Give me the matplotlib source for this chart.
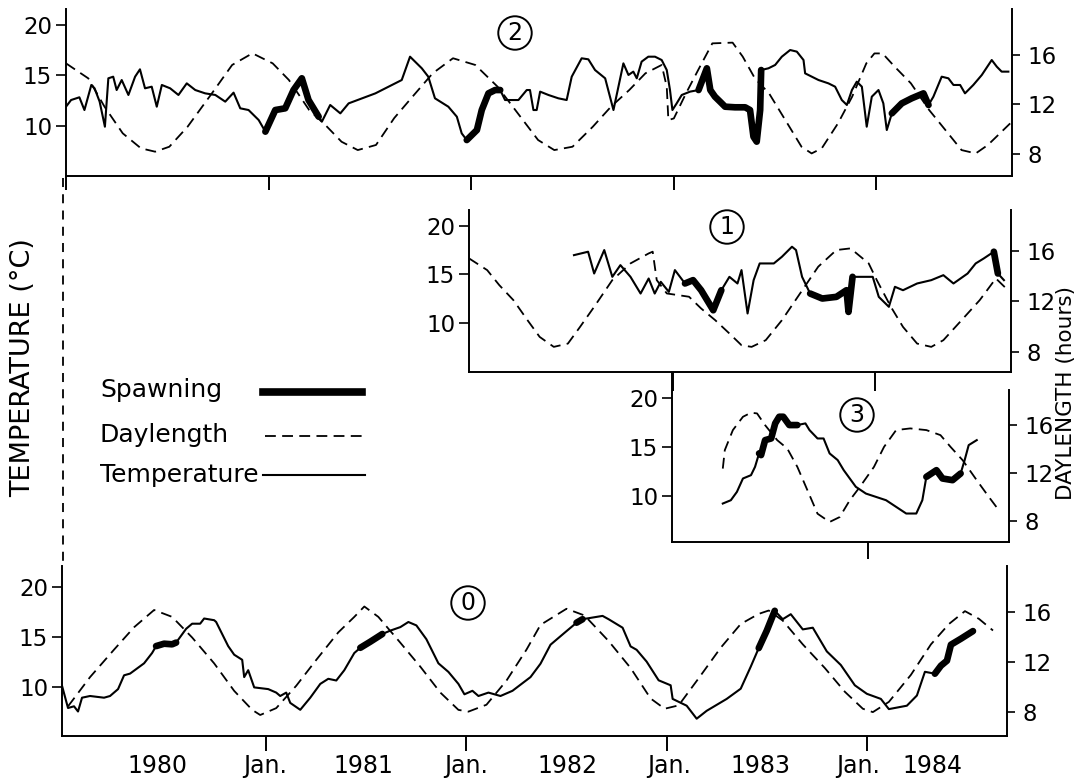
import matplotlib
matplotlib.use("Agg")
import matplotlib.pyplot as plt
from matplotlib.lines import Line2D
import numpy as np

W, H = 1082, 778

# ---------------- panel 2 (top) ----------------
p2_day_yr = [1980.00, 1980.11, 1980.19, 1980.28, 1980.37, 1980.44, 1980.51, 1980.60, 1980.72, 1980.82,
             1980.92, 1981.02, 1981.10, 1981.20, 1981.28, 1981.36, 1981.44, 1981.53, 1981.62, 1981.71,
             1981.81, 1981.91, 1982.02, 1982.13, 1982.23, 1982.33, 1982.41, 1982.50, 1982.60, 1982.69,
             1982.78, 1982.86, 1982.94, 1982.965, 1982.973, 1983.00, 1983.06, 1983.12, 1983.19, 1983.29,
             1983.34, 1983.40, 1983.47, 1983.53, 1983.58, 1983.63, 1983.68, 1983.73, 1983.81, 1983.88,
             1983.95, 1983.99, 1984.03, 1984.09, 1984.17, 1984.26, 1984.34, 1984.42, 1984.49, 1984.55,
             1984.66]
p2_day_h = [15.31, 14.10, 11.82, 9.67, 8.46, 8.19, 8.59, 10.20, 12.89, 15.18,
            16.12, 15.31, 13.97, 11.55, 10.34, 8.99, 8.32, 8.73, 10.90, 12.62,
            14.51, 15.72, 15.18, 13.43, 11.28, 9.13, 8.32, 8.59, 10.20, 11.82,
            13.16, 14.51, 15.18, 13.43, 10.74, 10.87, 12.89, 14.77, 16.92, 16.98,
            15.85, 14.10, 12.89, 11.28, 9.94, 8.59, 8.05, 8.46, 10.47, 12.62,
            15.31, 16.11, 16.11, 15.04, 13.70, 11.55, 9.94, 8.32, 8.05, 8.73,
            10.47]
p2_temp_yr = [1980.00, 1980.025, 1980.066, 1980.091, 1980.125, 1980.141, 1980.166, 1980.192, 1980.209, 1980.233,
              1980.250, 1980.275, 1980.308, 1980.341, 1980.365, 1980.390, 1980.423, 1980.448, 1980.473, 1980.514,
              1980.555, 1980.596, 1980.638, 1980.687, 1980.737, 1980.786, 1980.827, 1980.860, 1980.901, 1980.951,
              1980.984, 1981.033, 1981.082, 1981.123, 1981.164, 1981.197, 1981.247, 1981.263, 1981.304, 1981.354,
              1981.395, 1981.461, 1981.527, 1981.592, 1981.657, 1981.698, 1981.756, 1981.788, 1981.821, 1981.887,
              1981.929, 1981.953, 1981.978, 1982.028, 1982.052, 1982.085, 1982.118, 1982.143, 1982.167, 1982.233,
              1982.274, 1982.290, 1982.307, 1982.323, 1982.340, 1982.381, 1982.430, 1982.471, 1982.496, 1982.545,
              1982.578, 1982.611, 1982.661, 1982.702, 1982.751, 1982.776, 1982.800, 1982.817, 1982.841, 1982.874,
              1982.907, 1982.940, 1982.965, 1982.981, 1982.993, 1983.014, 1983.039, 1983.080, 1983.122, 1983.163,
              1983.180, 1983.203, 1983.228, 1983.253, 1983.302, 1983.352, 1983.376, 1983.393, 1983.409, 1983.426,
              1983.431, 1983.467, 1983.500, 1983.533, 1983.574, 1983.607, 1983.640, 1983.648, 1983.681, 1983.714,
              1983.763, 1983.796, 1983.829, 1983.854, 1983.879, 1983.903, 1983.928, 1983.952, 1983.977, 1984.010,
              1984.034, 1984.051, 1984.076, 1984.125, 1984.174, 1984.232, 1984.257, 1984.281, 1984.322, 1984.355,
              1984.380, 1984.413, 1984.437, 1984.478, 1984.520, 1984.569, 1984.594, 1984.618, 1984.651]
p2_temp_c = [11.91, 12.57, 12.84, 11.58, 14.06, 13.73, 12.41, 9.93, 14.72, 14.88,
             13.56, 14.55, 13.07, 14.88, 15.61, 13.73, 13.89, 11.91, 14.06, 13.73,
             13.07, 14.22, 13.56, 13.23, 13.07, 12.41, 13.30, 11.75, 11.58, 10.59,
             9.44, 11.58, 11.75, 13.56, 14.72, 12.57, 10.92, 10.43, 12.08, 11.25,
             12.24, 12.74, 13.23, 13.89, 14.55, 16.86, 15.71, 14.88, 12.74, 11.91,
             10.92, 9.27, 8.61, 9.60, 11.58, 13.23, 13.56, 13.56, 12.57, 12.57,
             13.56, 13.56, 11.58, 11.58, 13.40, 13.07, 12.74, 12.57, 14.88, 16.70,
             16.60, 15.54, 14.72, 11.58, 16.20, 15.05, 15.38, 14.72, 16.37, 16.86,
             16.86, 16.53, 15.54, 13.56, 11.58, 12.24, 13.07, 13.40, 13.56, 15.71,
             13.56, 12.90, 12.41, 11.91, 11.85, 11.85, 11.58, 8.94, 8.45, 11.58,
             15.54, 15.71, 16.04, 16.86, 17.52, 17.36, 16.53, 15.21, 14.88, 14.55,
             14.22, 13.89, 12.57, 12.08, 13.56, 14.39, 13.89, 9.93, 12.90, 13.56,
             12.24, 9.60, 11.25, 12.24, 12.74, 13.23, 12.08, 12.90, 14.88, 14.72,
             14.06, 14.06, 13.23, 14.06, 15.05, 16.53, 15.87, 15.38, 15.38]
p2_spawn = [(1980.98, 1981.25), (1981.975, 1982.145), (1983.12, 1983.435), (1984.07, 1984.26)]

# ---------------- panel 1 ----------------
p1_day_yr = [1981.99, 1982.08, 1982.14, 1982.21, 1982.28, 1982.34, 1982.41, 1982.48, 1982.54, 1982.61,
             1982.70, 1982.79, 1982.88, 1982.90, 1982.92, 1982.97, 1983.08, 1983.14, 1983.21, 1983.28,
             1983.34, 1983.39, 1983.46, 1983.54, 1983.63, 1983.72, 1983.81, 1983.88, 1983.97, 1984.01,
             1984.08, 1984.14, 1984.21, 1984.28, 1984.34, 1984.43, 1984.52, 1984.60, 1984.66]
p1_day_h = [15.41, 14.48, 13.29, 12.10, 10.51, 9.19, 8.40, 8.66, 9.98, 11.57,
            13.69, 15.01, 15.80, 15.94, 13.69, 12.63, 12.37, 11.44, 10.51, 9.46,
            8.53, 8.40, 8.93, 10.51, 12.63, 14.75, 16.07, 16.20, 15.01, 13.69,
            11.57, 9.98, 8.66, 8.40, 8.93, 10.51, 12.10, 13.82, 12.89]
p1_temp_yr = [1982.51, 1982.58, 1982.61, 1982.66, 1982.70, 1982.74, 1982.79, 1982.84, 1982.88, 1982.91,
              1982.94, 1982.98, 1983.01, 1983.06, 1983.10, 1983.14, 1983.20, 1983.24, 1983.28, 1983.32,
              1983.34, 1983.37, 1983.40, 1983.43, 1983.50, 1983.54, 1983.59, 1983.61, 1983.64, 1983.68,
              1983.74, 1983.81, 1983.86, 1983.87, 1983.89, 1983.94, 1983.99, 1984.02, 1984.07, 1984.10,
              1984.14, 1984.21, 1984.28, 1984.34, 1984.39, 1984.46, 1984.50, 1984.54, 1984.59, 1984.61,
              1984.64]
p1_temp_c = [16.97, 17.32, 15.09, 17.49, 14.75, 15.95, 14.75, 13.04, 14.58, 13.04,
             14.24, 13.21, 15.44, 14.07, 14.41, 13.38, 11.33, 13.38, 14.75, 14.07,
             15.44, 11.00, 14.41, 16.12, 16.12, 16.80, 17.83, 17.49, 14.75, 13.04,
             12.53, 12.70, 13.38, 11.16, 14.75, 14.75, 14.75, 12.70, 11.68, 13.73,
             13.38, 14.07, 14.41, 14.92, 14.07, 15.09, 16.12, 16.63, 17.32, 15.09,
             14.41]
p1_spawn = [(1983.03, 1983.25), (1983.66, 1983.90), (1984.59, 1984.62)]

# ---------------- panel 3 ----------------
p3_day_yr = [1983.28, 1983.29, 1983.33, 1983.38, 1983.42, 1983.45, 1983.49, 1983.55, 1983.60, 1983.65,
             1983.70, 1983.75, 1983.81, 1983.86, 1983.91, 1983.96, 1984.03, 1984.08, 1984.14, 1984.21,
             1984.29, 1984.36, 1984.41, 1984.47, 1984.54, 1984.60, 1984.65]
p3_day_h = [12.37, 13.91, 15.58, 16.69, 17.03, 16.97, 15.99, 14.74, 14.04, 12.51,
            10.56, 8.61, 7.92, 8.33, 9.73, 10.84, 12.51, 14.18, 15.58, 15.72,
            15.58, 15.16, 14.18, 13.07, 11.40, 10.01, 8.89]
p3_temp_yr = [1983.28, 1983.32, 1983.35, 1983.38, 1983.42, 1983.44, 1983.46, 1983.47, 1983.49, 1983.52,
              1983.54, 1983.56, 1983.58, 1983.61, 1983.65, 1983.69, 1983.71, 1983.75, 1983.78, 1983.81,
              1983.85, 1983.88, 1983.91, 1983.94, 1983.99, 1984.04, 1984.09, 1984.14, 1984.19, 1984.24,
              1984.27, 1984.29, 1984.34, 1984.37, 1984.42, 1984.46, 1984.48, 1984.50, 1984.54]
p3_temp_c = [9.25, 9.59, 10.44, 11.81, 12.15, 13.00, 14.37, 14.20, 15.73, 15.90,
             17.44, 18.12, 18.12, 17.27, 17.27, 17.44, 16.76, 15.90, 15.90, 14.37,
             13.69, 12.66, 11.81, 10.96, 10.27, 9.93, 9.59, 8.91, 8.23, 8.23,
             9.59, 11.98, 12.66, 11.81, 11.64, 12.32, 13.69, 15.22, 15.73]
p3_spawn = [(1983.46, 1983.65), (1984.29, 1984.46)]

# ---------------- panel 0 (bottom) ----------------
p0_day_yr = [1980.01, 1980.12, 1980.24, 1980.34, 1980.44, 1980.53, 1980.63, 1980.74, 1980.84, 1980.93,
             1980.97, 1981.05, 1981.15, 1981.25, 1981.36, 1981.44, 1981.49, 1981.56, 1981.67, 1981.77,
             1981.87, 1981.96, 1982.01, 1982.10, 1982.20, 1982.30, 1982.37, 1982.50, 1982.59, 1982.71,
             1982.82, 1982.92, 1982.99, 1983.06, 1983.16, 1983.27, 1983.37, 1983.46, 1983.51, 1983.58,
             1983.68, 1983.79, 1983.89, 1983.98, 1984.03, 1984.11, 1984.22, 1984.32, 1984.41, 1984.49,
             1984.56, 1984.63]
p0_day_h = [8.43, 10.77, 12.97, 14.76, 16.14, 15.59, 13.94, 11.87, 9.67, 8.15,
            7.74, 8.29, 10.08, 12.15, 14.35, 15.59, 16.42, 15.59, 13.52, 11.60,
            9.53, 8.15, 8.01, 8.56, 10.49, 12.97, 14.95, 16.24, 15.70, 13.66,
            11.50, 9.06, 8.24, 8.51, 10.68, 13.12, 15.02, 15.83, 16.10, 15.29,
            13.39, 11.50, 9.60, 8.24, 7.97, 8.79, 10.95, 13.39, 15.02, 16.05,
            15.43, 14.50]
p0_temp_yr = [1979.98, 1980.01, 1980.04, 1980.06, 1980.08, 1980.12, 1980.19, 1980.22, 1980.26, 1980.29,
              1980.32, 1980.39, 1980.43, 1980.45, 1980.49, 1980.53, 1980.55, 1980.60, 1980.63, 1980.67,
              1980.69, 1980.74, 1980.75, 1980.81, 1980.84, 1980.88, 1980.89, 1980.91, 1980.94, 1981.01,
              1981.05, 1981.07, 1981.10, 1981.12, 1981.17, 1981.22, 1981.27, 1981.31, 1981.35, 1981.39,
              1981.44, 1981.47, 1981.52, 1981.58, 1981.62, 1981.67, 1981.71, 1981.75, 1981.80, 1981.86,
              1981.91, 1981.96, 1981.99, 1982.03, 1982.06, 1982.11, 1982.17, 1982.23, 1982.32, 1982.37,
              1982.42, 1982.49, 1982.55, 1982.58, 1982.68, 1982.71, 1982.78, 1982.82, 1982.85, 1982.90,
              1982.96, 1983.02, 1983.03, 1983.10, 1983.15, 1983.20, 1983.30, 1983.37, 1983.42, 1983.46,
              1983.50, 1983.54, 1983.58, 1983.62, 1983.68, 1983.73, 1983.80, 1983.87, 1983.94, 1984.00,
              1984.07, 1984.11, 1984.20, 1984.25, 1984.29, 1984.34, 1984.37, 1984.40, 1984.42, 1984.47,
              1984.53]
p0_temp_c = [10.10, 7.87, 8.04, 7.52, 8.90, 9.07, 8.90, 9.07, 9.76, 11.14,
             11.31, 12.34, 13.37, 14.06, 14.30, 14.24, 14.41, 15.79, 16.30, 16.30,
             16.82, 16.65, 16.47, 14.06, 13.20, 12.69, 10.96, 11.65, 9.93, 9.76,
             9.41, 9.07, 9.41, 8.38, 7.69, 8.90, 10.28, 10.79, 10.62, 11.65,
             13.37, 13.89, 14.50, 15.27, 15.61, 15.96, 16.47, 16.13, 14.75, 12.34,
             11.48, 10.28, 9.24, 9.59, 9.07, 9.41, 9.07, 9.59, 10.96, 12.30,
             14.20, 15.39, 16.40, 16.75, 17.08, 16.75, 15.90, 14.03, 13.69, 12.51,
             10.64, 10.14, 8.78, 8.10, 6.80, 7.59, 8.78, 9.80, 12.00, 13.86,
             15.60, 17.59, 16.75, 17.25, 15.73, 15.90, 13.53, 12.17, 10.14, 9.29,
             8.78, 7.76, 8.10, 9.12, 11.49, 11.30, 12.10, 12.60, 14.20, 14.80,
             15.56]
p0_spawn = [(1980.45, 1980.55), (1981.47, 1981.58), (1982.55, 1982.58), (1983.45, 1983.545), (1984.33, 1984.53)]

x_jan = [1981, 1982, 1983, 1984]
x_jan_pos = [1980.995, 1982.0, 1983.01, 1983.955]
x_year_pos = [1980.455, 1981.485, 1982.505, 1983.47, 1984.33]
x_year_labels = ["1980", "1981", "1982", "1983", "1984"]

temp_ticks = [10, 15, 20]
day_ticks = [8, 12, 16]

plt.rcParams['font.family'] = ['DejaVu Sans']
fig = plt.figure(figsize=(W / 100, H / 100), dpi=100)
fig.patch.set_facecolor('white')

DASH = (0, (6, 3.5))


def box(l, t, r, b):
    return [l / W, 1 - b / H, (r - l) / W, (b - t) / H]


def panel(rect, xlim, tlim, hlim, xticks, tick_len, day_x, day_y, temp_x, temp_y, spawn):
    ax = fig.add_axes(rect)
    ax2 = ax.twinx()
    ax.set_xlim(xlim)
    ax.set_ylim(tlim)
    ax2.set_ylim(hlim)
    ax.patch.set_visible(False)
    for a in (ax, ax2):
        a.spines['top'].set_visible(False)
        for s in a.spines.values():
            s.set_linewidth(1.4)
    ax.spines['right'].set_visible(False)
    ax2.spines['left'].set_visible(False)
    ax2.spines['bottom'].set_visible(False)
    ax.set_yticks(temp_ticks)
    ax2.set_yticks(day_ticks)
    ax.set_xticks(xticks)
    ax.set_xticklabels([])
    ax.tick_params(axis='x', length=tick_len, width=1.4, direction='out')
    ax.tick_params(axis='y', length=7, width=1.2, labelsize=16.5, pad=3)
    ax2.tick_params(axis='y', length=6, width=1.2, labelsize=16.5, pad=5)

    ax.plot(temp_x, temp_y, color='black', lw=1.5)
    ax2.plot(day_x, day_y, color='black', lw=1.3, linestyle=DASH)
    tx = np.array(temp_x)
    ty = np.array(temp_y)
    for t0, t1 in spawn:
        m = (tx >= t0) & (tx <= t1)
        ax.plot(tx[m], ty[m], color='black', lw=4.8, solid_capstyle='round', solid_joinstyle='round')
    return ax, ax2


# top panel (2)
panel(box(66, 9, 1012, 176), (1980.0, 1984.669), (5.05, 21.58), (6.23, 19.69),
      [1980, 1981, 1982, 1983, 1984], 10, p2_day_yr, p2_day_h, p2_temp_yr, p2_temp_c, p2_spawn)

# panel 1
panel(box(469, 210, 1011, 372), (1981.99, 1984.675), (5.01, 21.59), (6.41, 19.24),
      [1983, 1984], 14, p1_day_yr, p1_day_h, p1_temp_yr, p1_temp_c, p1_spawn)

# panel 3
ax3, ax3r = panel(box(672, 373, 1009, 542), (1983.028, 1984.70), (5.32, 22.59), (6.25, 20.34),
                  [1984], 12, p3_day_yr, p3_day_h, p3_temp_yr, p3_temp_c, p3_spawn)
ax3r.spines['right'].set_bounds(6.25, 18.93)

# bottom panel (0)
ax0, ax0r = panel(box(62, 566, 1007, 736), (1979.98, 1984.70), (5.07, 22.07), (6.06, 19.66),
                  x_jan, 11, p0_day_yr, p0_day_h, p0_temp_yr, p0_temp_c, p0_spawn)
ax0.xaxis.remove_overlapping_locs = False
ax0.set_xticks(x_jan)
ax0.set_xticklabels([])
ax0.set_xticks(x_year_pos + x_jan_pos, minor=True)
ax0.set_xticklabels(x_year_labels + ["Jan."] * 4, minor=True, fontsize=17)
ax0.tick_params(axis='x', which='minor', length=0, pad=13)

# dashed connector on the left
fig.add_artist(Line2D([63 / W, 63 / W], [1 - 178 / H, 1 - 566 / H], color='black',
                      lw=1.3, linestyle=(0, (5, 4)), transform=fig.transFigure))

# circled panel numbers
for txt, (cx, cy) in [("2", (515, 33)), ("1", (727, 227)), ("3", (857, 415)), ("0", (468, 603))]:
    fig.text(cx / W, 1 - cy / H, txt, ha='center', va='center', fontsize=17,
             bbox=dict(boxstyle='circle,pad=0.2', fc='white', ec='black', lw=1.4))

# legend
fig.text(100 / W, 1 - 390 / H, "Spawning", fontsize=18, va='center', ha='left')
fig.text(100 / W, 1 - 435 / H, "Daylength", fontsize=18, va='center', ha='left')
fig.text(100 / W, 1 - 475 / H, "Temperature", fontsize=18, va='center', ha='left')
fig.add_artist(Line2D([263 / W, 362 / W], [1 - 392 / H] * 2, color='black', lw=5.5,
                      transform=fig.transFigure))
fig.add_artist(Line2D([265 / W, 362 / W], [1 - 436 / H] * 2, color='black', lw=1.3,
                      linestyle=DASH, transform=fig.transFigure))
fig.add_artist(Line2D([263 / W, 365 / W], [1 - 475 / H] * 2, color='black', lw=1.5,
                      transform=fig.transFigure))

# axis titles
fig.text(23 / W, 1 - 368 / H, "TEMPERATURE (°C)", rotation=90, ha='center', va='center', fontsize=19.5)
fig.text(1056 / W, 1 - 393 / H, "DAYLENGTH (hours)", rotation=90, ha='left', va='center', fontsize=15.5)

fig.savefig("out.png", dpi=100, facecolor='white')
